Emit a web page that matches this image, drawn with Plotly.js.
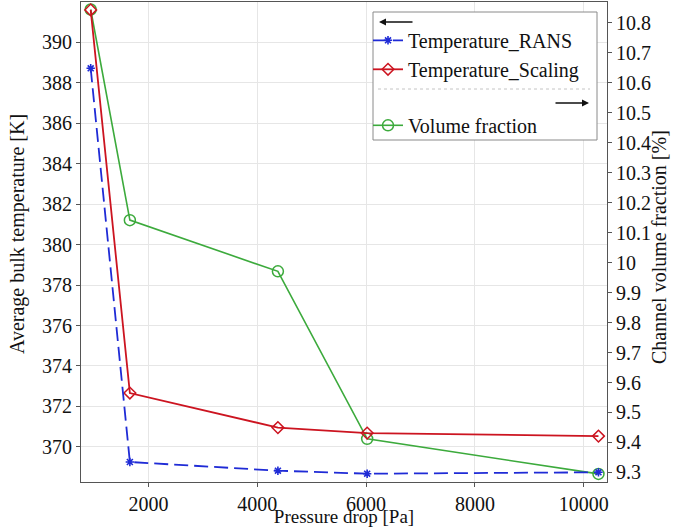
<!DOCTYPE html>
<html>
<head>
<meta charset="utf-8">
<script src="https://cdn.plot.ly/plotly-3.0.1.min.js"></script>
<style>html,body{margin:0;padding:0;background:#fff;}#chart{width:685px;height:527px;}</style>
</head>
<body>
<div id="chart"></div>
<script>
// ---- data ----
const pressure = [940, 1660, 4380, 6020, 10270];
const tempRANS = [388.72, 369.25, 368.82, 368.67, 368.74];
const tempScaling = [391.61, 372.66, 370.95, 370.68, 370.53];
const volFraction = [10.845, 10.142, 9.971, 9.412, 9.295];

const xTicks = [2000, 4000, 6000, 8000, 10000];
const xTickText = ["2000", "4000", "6000", "8000", "10000"];
const tempTicks = [370, 372, 374, 376, 378, 380, 382, 384, 386, 388, 390];
const volTicks = [9.3, 9.4, 9.5, 9.6, 9.7, 9.8, 9.9, 10.0, 10.1, 10.2, 10.3, 10.4, 10.5, 10.6, 10.7, 10.8];
const volTickText = ["9.3","9.4","9.5","9.6","9.7","9.8","9.9","10","10.1","10.2","10.3","10.4","10.5","10.6","10.7","10.8"];

const names = ["Temperature_RANS", "Temperature_Scaling", "Volume fraction"];
const xTitle = "Pressure drop [Pa]";
const yTitle = "Average bulk temperature [K]";
const y2Title = "Channel volume fraction [%]";

const FONT = "'Liberation Serif', 'Times New Roman', Times, serif";
const BLUE = "#1f2bd6", RED = "#cc1420", GREEN = "#3caa3c";

// plot area in px (for converting legend decorations)
const L = 81, R = 607, T = 2, B = 482;
const px = x => (x - L) / (R - L);
const py = y => 1 - (y - T) / (B - T);

const traces = [
  {x: pressure, y: volFraction, name: names[2], type: "scatter", mode: "lines+markers",
   xaxis: "x", yaxis: "y", legendrank: 3, legendgroup: "vol",
   line: {color: GREEN, width: 1.6},
   marker: {symbol: "circle-open", size: 11, color: GREEN, line: {width: 1.5}}},
  {x: pressure, y: tempScaling, name: names[1], type: "scatter", mode: "lines+markers",
   xaxis: "x", yaxis: "y2", legendrank: 2, legendgroup: "temp",
   line: {color: RED, width: 1.8},
   marker: {symbol: "diamond-open", size: 9, color: RED, line: {width: 1.5}}},
  {x: pressure, y: tempRANS, name: names[0], type: "scatter", mode: "lines+markers",
   xaxis: "x", yaxis: "y2", legendrank: 1, legendgroup: "temp",
   line: {color: BLUE, width: 1.8, dash: "14px,6px"},
   marker: {symbol: "asterisk-open", size: 7, color: BLUE, line: {width: 1.6, color: BLUE}}}
];

const layout = {
  width: 685, height: 527,
  margin: {l: L, r: 685 - R, t: T, b: 527 - B, pad: 0},
  paper_bgcolor: "#fff", plot_bgcolor: "#fff",
  font: {family: FONT, size: 20, color: "#111"},
  showlegend: true,
  legend: {
    x: px(368), y: py(13), xanchor: "left", yanchor: "top",
    bgcolor: "rgba(0,0,0,0)", borderwidth: 0,
    font: {family: FONT, size: 20, color: "#111"},
    traceorder: "grouped", tracegroupgap: 27,
    title: {text: " ", font: {size: 6}},
    itemwidth: 30
  },
  xaxis: {
    range: [762, 10427], tickvals: xTicks, ticktext: xTickText, ticks: "outside", ticklen: 4, tickcolor: "#555",
    showgrid: true, gridcolor: "#e6e6e6", gridwidth: 1, zeroline: false,
    showline: true, linecolor: "#555", linewidth: 1, mirror: true,
    tickfont: {family: FONT, size: 20, color: "#111"},
    title: {text: xTitle, font: {family: FONT, size: 19, color: "#111"}, standoff: 4}
  },
  yaxis: {
    range: [9.268, 10.870], tickvals: volTicks, ticktext: volTickText, side: "right",
    ticks: "outside", ticklen: 4, tickcolor: "#555",
    showgrid: false, zeroline: false, showline: true, linecolor: "#555", linewidth: 1,
    tickfont: {family: FONT, size: 20, color: "#111"}
  },
  yaxis2: {
    range: [368.26, 392.0], tickvals: tempTicks, side: "left", overlaying: "y",
    ticks: "outside", ticklen: 4, tickcolor: "#555",
    showgrid: true, gridcolor: "#e6e6e6", gridwidth: 1, zeroline: false,
    showline: true, linecolor: "#555", linewidth: 1,
    tickfont: {family: FONT, size: 20, color: "#111"}
  },
  shapes: [
    {type: "rect", xref: "paper", yref: "paper", layer: "above",
     x0: px(373), x1: px(597), y0: py(140), y1: py(12),
     fillcolor: "#fff", line: {color: "#8a8a8a", width: 1}},
    {type: "line", xref: "paper", yref: "paper", layer: "above",
     x0: px(378), x1: px(590), y0: py(89), y1: py(89),
     line: {color: "#c4c4c4", width: 1, dash: "dot"}}
  ],
  annotations: [
    {xref: "paper", yref: "paper", x: px(379), y: py(22), ax: 35, ay: 0, text: "",
     showarrow: true, arrowhead: 2, arrowsize: 1, arrowwidth: 1.4, arrowcolor: "#111"},
    {xref: "paper", yref: "paper", x: px(589), y: py(103), ax: -35, ay: 0, text: "",
     showarrow: true, arrowhead: 2, arrowsize: 1, arrowwidth: 1.4, arrowcolor: "#111"},
    {xref: "paper", yref: "paper", x: px(17), y: py(234), xanchor: "center", yanchor: "middle",
     text: yTitle, textangle: -90, showarrow: false,
     font: {family: FONT, size: 20, color: "#111"}},
    {xref: "paper", yref: "paper", x: px(659), y: py(247), xanchor: "center", yanchor: "middle",
     text: y2Title, textangle: -90, showarrow: false,
     font: {family: FONT, size: 20, color: "#111"}}
  ]
};

Plotly.newPlot("chart", traces, layout, {staticPlot: true, displayModeBar: false});
</script>
</body>
</html>
